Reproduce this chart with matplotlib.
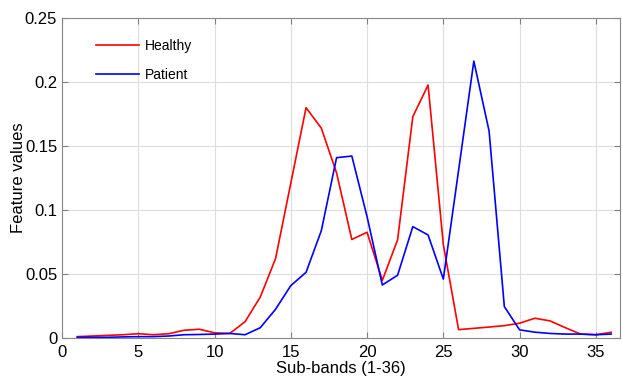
import numpy as np
import matplotlib.pyplot as plt

plt.rcParams['font.family'] = ['Liberation Sans', 'DejaVu Sans']

# sub-band index
bands = np.arange(1, 37)

healthy = [0.001, 0.0015, 0.002, 0.0025, 0.0033, 0.0025, 0.0033, 0.006, 0.0068, 0.004,
           0.0035, 0.0127, 0.032, 0.062, 0.121, 0.180, 0.164, 0.129, 0.077, 0.0826,
           0.045, 0.0766, 0.173, 0.1977, 0.073, 0.0065, 0.0075, 0.0085, 0.0096, 0.0115,
           0.0154, 0.0133, 0.008, 0.003, 0.0025, 0.0044]

patient = [0.0005, 0.0005, 0.0005, 0.0008, 0.001, 0.001, 0.0015, 0.0025, 0.0027, 0.003,
           0.0035, 0.0025, 0.008, 0.0224, 0.0409, 0.0513, 0.0838, 0.1409, 0.1422, 0.0948,
           0.0414, 0.049, 0.087, 0.0805, 0.046, 0.131, 0.2164, 0.1617, 0.0245, 0.0063,
           0.0045, 0.0035, 0.003, 0.003, 0.0025, 0.003]

fig = plt.figure(figsize=(6.22, 3.78), dpi=100)
ax = fig.add_axes([0.0997, 0.106, 0.8975, 0.846])

ax.plot(bands, healthy, color='red', linewidth=1.2, label='Healthy')
ax.plot(bands, patient, color='blue', linewidth=1.2, label='Patient')

ax.set_xlim(0, 36.6)
ax.set_ylim(0, 0.25)
ax.set_xticks([0, 5, 10, 15, 20, 25, 30, 35])
ax.set_yticks([0, 0.05, 0.1, 0.15, 0.2, 0.25])
ax.set_yticklabels(['0', '0.05', '0.1', '0.15', '0.2', '0.25'])

ax.set_xlabel('Sub-bands (1-36)', fontsize=12, labelpad=1)
ax.set_ylabel('Feature values', fontsize=12, labelpad=-1)

ax.grid(True, color='#dddddd', linewidth=0.8)
ax.tick_params(direction='in', top=True, right=True, labelsize=12, color='#808080', length=4)
ax.tick_params(axis='x', pad=5)
for s in ax.spines.values():
    s.set_color('#888888')

ax.legend(loc='upper left', frameon=False, fontsize=10, handlelength=3.1,
          handletextpad=0.4, borderpad=0, borderaxespad=0,
          bbox_to_anchor=(0.061, 0.935), labelspacing=1.1)

fig.savefig('out.png', dpi=100)
